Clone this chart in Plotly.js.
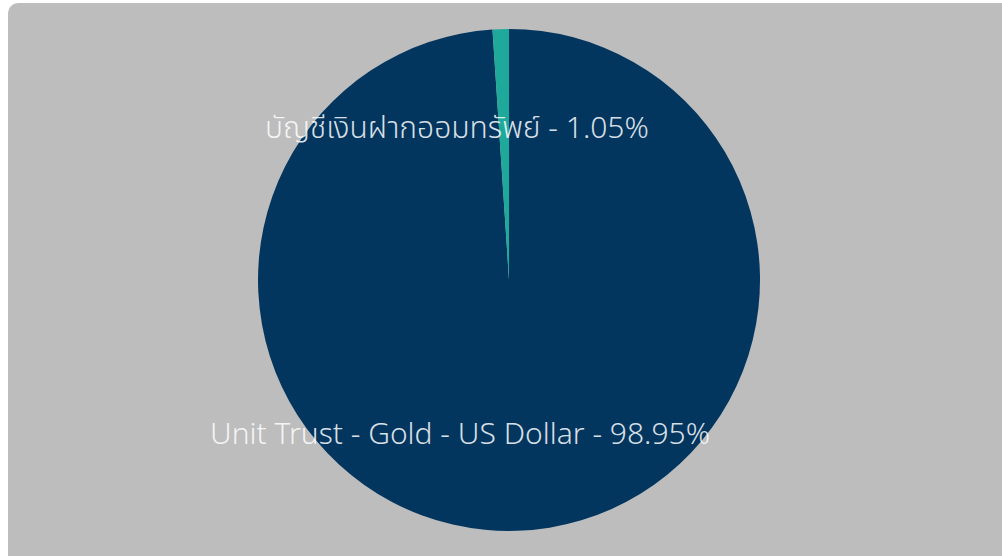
<!DOCTYPE html>
<html>
<head>
<meta charset="utf-8">
<script src="https://cdn.plot.ly/plotly-3.0.1.min.js"></script>
<style>
  html, body { margin: 0; padding: 0; background: #ffffff; width: 1002px; height: 556px; overflow: hidden; }
  #card { position: absolute; left: 8px; top: 3px; width: 994px; height: 553px; background: #bdbdbd; border-radius: 10px 0 0 0; }
  #chart { position: absolute; left: 0; top: 0; width: 1002px; height: 556px; }
</style>
</head>
<body>
<div id="card"></div>
<div id="chart"></div>
<script>
const categories = ["บัญชีเงินฝากออมทรัพย์", "Unit Trust - Gold - US Dollar"];
const values = [1.05, 98.95];
const colors = ["#1fa99b", "#03365f"];
const labelPos = [[0.456, 0.772], [0.459, 0.223]];

// drawn in reverse order so the small slice ends at 12 o'clock (to its left)
const order = [1, 0];

const trace = {
  type: "pie",
  labels: order.map(i => categories[i]),
  values: order.map(i => values[i]),
  sort: false,
  direction: "clockwise",
  rotation: 0,
  textinfo: "none",
  hoverinfo: "label+percent",
  marker: { colors: order.map(i => colors[i]), line: { width: 0 } },
  domain: { x: [0.2575, 0.7585], y: [0.045, 0.948] },
  showlegend: false
};

const annotations = categories.map((c, i) => ({
  xref: "paper", yref: "paper",
  x: labelPos[i][0], y: labelPos[i][1],
  xanchor: "center", yanchor: "middle",
  showarrow: false,
  text: c + " - " + values[i].toFixed(2) + "%",
  font: { family: "Noto Sans, 'Noto Sans Thai', sans-serif", size: 30, weight: 300, color: "rgba(255,255,255,0.85)" }
}));

Plotly.newPlot("chart", [trace], {
  width: 1002, height: 556,
  margin: { l: 0, r: 0, t: 0, b: 0 },
  paper_bgcolor: "rgba(0,0,0,0)",
  plot_bgcolor: "rgba(0,0,0,0)",
  annotations: annotations
}, { displayModeBar: false, staticPlot: true });
</script>
</body>
</html>
